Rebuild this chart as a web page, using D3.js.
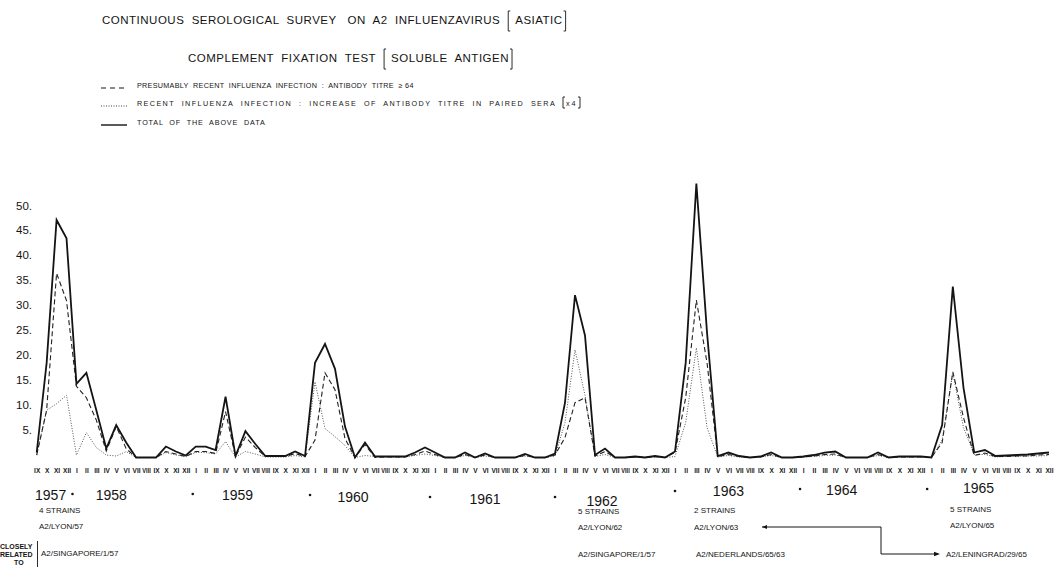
<!DOCTYPE html>
<html><head><meta charset="utf-8">
<script src="https://cdn.jsdelivr.net/npm/d3@7/dist/d3.min.js"></script>
<style>
body{margin:0;background:#fff}
svg{display:block}
text{font-family:"Liberation Sans",Arial,sans-serif;fill:#141414}
</style></head><body>
<svg id="c" width="1060" height="567"></svg>
<script>
// ---------------- DATA ----------------
const romanMonths = ["I","II","III","IV","V","VI","VII","VIII","IX","X","XI","XII"];
const monthLabels = ["IX","X","XI","XII"].concat(
  romanMonths, romanMonths, romanMonths, romanMonths,
  romanMonths, romanMonths, romanMonths, romanMonths);
const yearLabels = ["1957","1958","1959","1960","1961","1962","1963","1964","1965"];
const yTicks = [5,10,15,20,25,30,35,40,45,50];

// presumably recent infection: antibody titre >= 64 (dashed)
const titre64 = [
  0.5, 9.5, 37, 31.5,
  14.3, 12, 7.5, 1.3, 6.2, 1.8, 0, 0, 0, 1.2, 0.7, 0.2,
  1.2, 1.2, 0.8, 9.2, 0.2, 4.1, 2, 0.2, 0.2, 0.2, 0.8, 0.2,
  3.5, 17, 13.6, 3.8, 0, 2.6, 0, 0.1, 0.1, 0.1, 0.6, 1.3,
  0.6, 0, 0, 0.6, 0, 0.5, 0, 0, 0, 0.4, 0, 0,
  0.5, 4, 11, 12, 0.3, 1.2, 0, 0, 0.1, 0, 0.2, 0,
  1, 12, 31.6, 19, 0.2, 0.6, 0.2, 0, 0.1, 0.6, 0, 0,
  0.1, 0.3, 0.6, 0.7, 0, 0, 0, 0.6, 0, 0.1, 0.1, 0.1,
  0, 3, 17.2, 8, 0.4, 0.9, 0.2, 0.2, 0.3, 0.3, 0.5, 0.6
];
// recent infection: increase of titre in paired sera x4 (dotted)
const pairedSera = [
  0.5, 9.5, 10.8, 12.5,
  0.5, 5, 2, 0.5, 0.3, 1.2, 0, 0, 0, 1, 0.5, 0.2,
  1, 1, 0.7, 3.2, 0.1, 1.2, 0.7, 0.1, 0.1, 0.1, 0.4, 0.1,
  15.2, 5.8, 4.2, 2.4, 0, 0.4, 0.2, 0.1, 0.1, 0.1, 0.4, 0.7,
  0.4, 0, 0, 0.4, 0, 0.3, 0, 0, 0, 0.3, 0, 0,
  0.3, 7, 21.6, 12.5, 0.2, 0.6, 0, 0, 0.1, 0, 0.1, 0,
  0.2, 7, 22, 6, 0.1, 0.4, 0.1, 0, 0.1, 0.4, 0, 0,
  0.1, 0.2, 0.4, 0.5, 0, 0, 0, 0.4, 0, 0.1, 0.1, 0.1,
  0, 3.5, 17, 6, 0.6, 0.6, 0.1, 0.2, 0.2, 0.3, 0.3, 0.4
];
// total of the above data (solid)
const total = [
  1, 19, 47.7, 44,
  14.8, 17, 9.5, 1.8, 6.5, 3, 0, 0, 0, 2.2, 1.2, 0.4,
  2.2, 2.2, 1.5, 12.2, 0.3, 5.3, 2.7, 0.3, 0.3, 0.3, 1.2, 0.3,
  19, 22.8, 17.8, 6.2, 0, 3, 0.2, 0.2, 0.2, 0.2, 1, 2,
  1, 0, 0, 1, 0, 0.8, 0, 0, 0, 0.7, 0, 0,
  0.8, 11, 32.6, 24.5, 0.5, 1.8, 0, 0, 0.2, 0, 0.3, 0,
  1.2, 19, 55, 25, 0.3, 1, 0.3, 0, 0.2, 1, 0, 0,
  0.2, 0.5, 1, 1.2, 0, 0, 0, 1, 0, 0.2, 0.2, 0.2,
  0, 6.5, 34.3, 14, 1, 1.5, 0.3, 0.4, 0.5, 0.6, 0.8, 1
];

const titleLine1 = "CONTINUOUS  SEROLOGICAL  SURVEY   ON  A2  INFLUENZAVIRUS";
const titleBracket1 = "ASIATIC";
const titleLine2 = "COMPLEMENT  FIXATION  TEST";
const titleBracket2 = "SOLUBLE  ANTIGEN";
const legendTexts = [
  "PRESUMABLY  RECENT  INFLUENZA  INFECTION  :  ANTIBODY  TITRE  ≥ 64",
  "RECENT  INFLUENZA  INFECTION  :  INCREASE  OF  ANTIBODY  TITRE  IN  PAIRED  SERA",
  "TOTAL  OF  THE  ABOVE  DATA"
];

// ---------------- LAYOUT ----------------
const svg = d3.select("#c");
const x = d3.scaleLinear().domain([0, 28, 64, 99]).range([36.7, 315, 675, 1049]);
const y = d3.scaleLinear().domain([0, 50]).range([457.5, 208.5]);
const ink = "#141414";

function bracket(g, bx, top, bottom, dir) {
  g.append("path")
    .attr("d", `M${bx + dir * 2},${top} L${bx},${top} L${bx},${bottom} L${bx + dir * 2},${bottom}`)
    .attr("fill", "none").attr("stroke", ink).attr("stroke-width", 0.9);
}
function titleRow(g, x0, base, size, main, inner, top, bottom, ls) {
  const t = g.append("text").attr("x", x0).attr("y", base).attr("font-size", size)
    .attr("letter-spacing", ls).style("white-space", "pre").text(main);
  const w = t.node().getComputedTextLength();
  const bx1 = x0 + w + 8;
  bracket(g, bx1, top, bottom, 1);
  const t2 = g.append("text").attr("x", bx1 + 7).attr("y", base).attr("font-size", size)
    .attr("letter-spacing", ls).style("white-space", "pre").text(inner);
  const w2 = t2.node().getComputedTextLength();
  bracket(g, bx1 + 7 + w2 + 3, top, bottom, -1);
}
const tg = svg.append("g");
titleRow(tg, 102, 24, 11.5, titleLine1, titleBracket1, 11, 31, 0.5);
titleRow(tg, 188, 62, 11.5, titleLine2, titleBracket2, 49, 69, 0.5);

// legend
const lg = svg.append("g");
const legendY = [88, 106, 125];
const legendFit = [null, 418, 128];
const legendStyles = [
  {dash: "5,4", w: 1.1, c: ink},
  {dash: "1,1.5", w: 1, c: "#444"},
  {dash: null, w: 1.4, c: ink}
];
legendTexts.forEach((s, i) => {
  const ln = lg.append("line").attr("x1", 101).attr("x2", 127)
    .attr("y1", legendY[i]).attr("y2", legendY[i])
    .attr("stroke", legendStyles[i].c).attr("stroke-width", legendStyles[i].w);
  if (legendStyles[i].dash) ln.attr("stroke-dasharray", legendStyles[i].dash);
  const t = lg.append("text").attr("x", 137).attr("y", legendY[i]).attr("font-size", 7.2)
    .attr("letter-spacing", 0.3).style("white-space", "pre").text(s);
  if (legendFit[i]) t.attr("textLength", legendFit[i]).attr("lengthAdjust", "spacing");
  if (i === 1) {
    const w = legendFit[i] || t.node().getComputedTextLength();
    bracket(lg, 137 + w + 8, legendY[i] - 9, legendY[i] + 2, 1);
    lg.append("text").attr("x", 137 + w + 11).attr("y", legendY[i]).attr("font-size", 7.2).text("x 4");
    bracket(lg, 137 + w + 25, legendY[i] - 9, legendY[i] + 2, -1);
  }
});

// y axis
svg.append("g").attr("transform", "translate(32,0)")
  .call(d3.axisLeft(y).tickValues(yTicks).tickSize(0).tickPadding(0).tickFormat(d => d + "."))
  .call(g => g.select(".domain").remove())
  .selectAll("text").attr("font-size", 11.5).attr("dy", "0.05em")
  .attr("font-family", '"Liberation Sans",Arial,sans-serif').attr("fill", ink);

// month axis
svg.append("g").attr("transform", "translate(0,468)")
  .call(d3.axisBottom(x).tickValues(d3.range(monthLabels.length)).tickSize(0).tickPadding(0)
    .tickFormat(i => monthLabels[i]))
  .call(g => g.select(".domain").remove())
  .selectAll("text").attr("font-size", 6.5).attr("font-weight", "bold")
  .attr("font-family", '"Liberation Sans",Arial,sans-serif').attr("fill", ink)
  .each(function () {
    const L = this.getComputedTextLength();
    if (L > 8.5) d3.select(this).attr("textLength", 8.5).attr("lengthAdjust", "spacingAndGlyphs");
  });

// lines
const line = d3.line().x((d, i) => x(i)).y(d => y(d));
svg.append("path").datum(pairedSera).attr("d", line).attr("fill", "none")
  .attr("stroke", "#555").attr("stroke-width", 1).attr("stroke-dasharray", "1,1.6");
svg.append("path").datum(titre64).attr("d", line).attr("fill", "none")
  .attr("stroke", "#222").attr("stroke-width", 1.1).attr("stroke-dasharray", "5,3");
svg.append("path").datum(total).attr("d", line).attr("fill", "none")
  .attr("stroke", ink).attr("stroke-width", 1.8).attr("stroke-linejoin", "miter");

// year labels (positions in month units) and separating dots
const yearPos = [1.4, 7.5, 20.2, 31.8, 45, 56.7, 69, 79.6, 92.4];
const yearBase = [500, 500, 500, 502, 504, 506, 496, 495, 493];
const dotPos = [3.6, 15.7, 27.5, 39.5, 52, 64, 75.7, 87.6];
const dotY = [494, 494, 495, 497, 497, 491, 489, 489];
const yg = svg.append("g");
yearLabels.forEach((s, i) => {
  yg.append("text").attr("x", x(yearPos[i])).attr("y", yearBase[i]).attr("font-size", 14)
    .attr("text-anchor", "middle").text(s);
});
dotPos.forEach((p, i) => {
  yg.append("circle").attr("cx", x(p)).attr("cy", dotY[i]).attr("r", 1.3).attr("fill", ink);
});

// strain annotations
const ann = [
  ["4 STRAINS", 39, 513], ["A2/LYON/57", 39, 529], ["A2/SINGAPORE/1/57", 41, 556],
  ["5 STRAINS", 578, 514], ["A2/LYON/62", 578, 530], ["A2/SINGAPORE/1/57", 578, 557],
  ["2 STRAINS", 694, 513], ["A2/LYON/63", 694, 530], ["A2/NEDERLANDS/65/63", 696, 557],
  ["5 STRAINS", 950, 512], ["A2/LYON/65", 950, 528], ["A2/LENINGRAD/29/65", 946, 557]
];
const ag = svg.append("g");
ann.forEach(a => ag.append("text").attr("x", a[1]).attr("y", a[2]).attr("font-size", 8).text(a[0]));
[["CLOSELY", 0, 549], ["RELATED", 0, 557], ["TO", 14, 565]].forEach(a =>
  ag.append("text").attr("x", a[1]).attr("y", a[2]).attr("font-size", 7).attr("font-weight", "bold").text(a[0]));
ag.append("line").attr("x1", 37.5).attr("x2", 37.5).attr("y1", 541).attr("y2", 567)
  .attr("stroke", ink).attr("stroke-width", 0.9);
ag.append("path").attr("d", "M762,527 L881,527 L881,554 L938,554")
  .attr("fill", "none").attr("stroke", ink).attr("stroke-width", 1);
ag.append("path").attr("d", "M762,527 l5,-2 l0,4 z").attr("fill", ink);
ag.append("path").attr("d", "M940,554 l-6,-2.2 l0,4.4 z").attr("fill", ink);
</script>
</body></html>
